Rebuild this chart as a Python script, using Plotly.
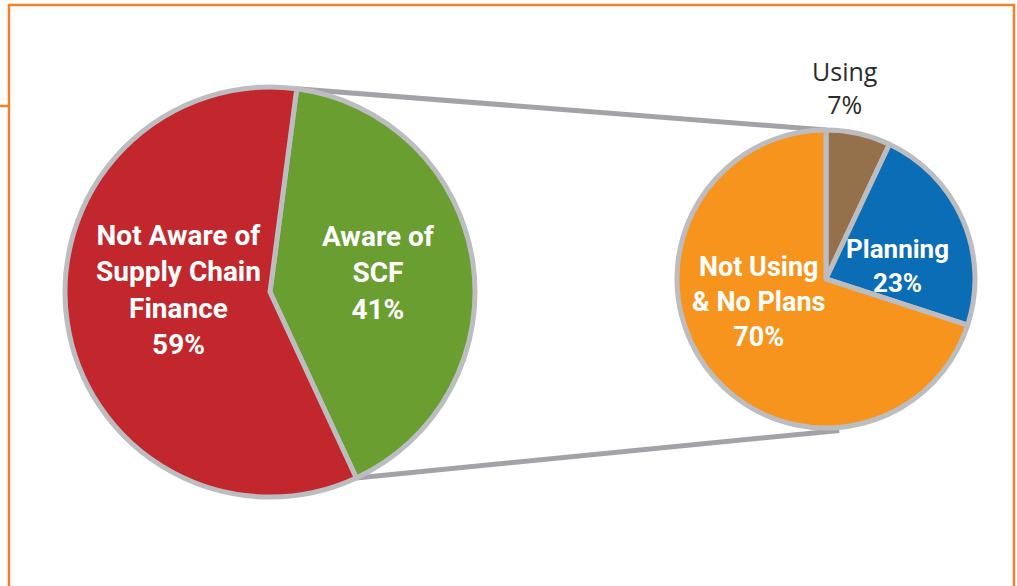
import math
import plotly.graph_objects as go

# --- data ---------------------------------------------------------------
awareness_labels = ["Aware of<br>SCF", "Not Aware of<br>Supply Chain<br>Finance"]
awareness_values = [41, 59]
awareness_colors = ["#6a9e30", "#c1272d"]

usage_labels = ["Using", "Planning", "Not Using<br>& No Plans"]
usage_values = [7, 23, 70]
usage_colors = ["#94714a", "#0b6db6", "#f7941d"]

# --- page geometry (pixels) ---------------------------------------------
W, H = 1017, 586
LEFT_C, LEFT_R, LEFT_ROT = (270, 292), 205, 7.5
RIGHT_C, RIGHT_R, RIGHT_ROT = (826, 279), 149, 0

OUTLINE = "#bcbdc0"
CONNECTOR = "#a3a3a7"
FRAME = "#f58025"


def px(x):
    return x / W


def py(y):
    return 1 - y / H


def domain(center, r):
    cx, cy = center
    return dict(x=[px(cx - r), px(cx + r)], y=[py(cy + r), py(cy - r)])


def rim(center, r, angle_deg):
    """Point on a pie rim, angle measured clockwise from 12 o'clock."""
    a = math.radians(angle_deg)
    return center[0] + r * math.sin(a), center[1] - r * math.cos(a)


fig = go.Figure()

fig.add_trace(go.Pie(
    labels=awareness_labels, values=awareness_values, sort=False,
    direction="clockwise", rotation=LEFT_ROT,
    marker=dict(colors=awareness_colors, line=dict(color=OUTLINE, width=5)),
    textinfo="none", hoverinfo="label+percent", showlegend=False,
    domain=domain(LEFT_C, LEFT_R),
))

fig.add_trace(go.Pie(
    labels=usage_labels, values=usage_values, sort=False,
    direction="clockwise", rotation=RIGHT_ROT,
    marker=dict(colors=usage_colors, line=dict(color=OUTLINE, width=5)),
    textinfo="none", hoverinfo="label+percent", showlegend=False,
    domain=domain(RIGHT_C, RIGHT_R),
))

# connector lines from the "Aware" slice edges to the breakdown pie
aware_span = 360 * awareness_values[0] / sum(awareness_values)
top_start = rim(LEFT_C, LEFT_R, LEFT_ROT)
bot_start = rim(LEFT_C, LEFT_R, LEFT_ROT + aware_span)
top_end = rim(RIGHT_C, RIGHT_R, RIGHT_ROT)
bot_end = rim(RIGHT_C, RIGHT_R + 3, 175)

shapes = []
for (x0, y0), (x1, y1) in [(top_start, top_end), (bot_start, bot_end)]:
    shapes.append(dict(type="line", xref="paper", yref="paper",
                       x0=px(x0), y0=py(y0), x1=px(x1), y1=py(y1),
                       line=dict(color=CONNECTOR, width=5), layer="below"))

# orange page frame (open at the bottom) and its small side tick
shapes.append(dict(type="path", xref="paper", yref="paper",
                   path=f"M {px(9)} {py(600)} L {px(9)} {py(5)} L {px(1014)} {py(5)} L {px(1014)} {py(600)}",
                   line=dict(color=FRAME, width=2.5), layer="below"))
shapes.append(dict(type="line", xref="paper", yref="paper",
                   x0=px(0), y0=py(106), x1=px(9), y1=py(106),
                   line=dict(color=FRAME, width=2.5), layer="below"))

# slice labels
BOLD = "Liberation Sans Narrow, Roboto, sans-serif"


def pct(v, total):
    return f"{round(100 * v / total)}%"


tot_a = sum(awareness_values)
tot_u = sum(usage_values)
label_specs = [
    (178, 290, f"<b>{awareness_labels[1]}<br>{pct(awareness_values[1], tot_a)}</b>", 28, "white", BOLD),
    (378, 273, f"<b>{awareness_labels[0]}<br>{pct(awareness_values[0], tot_a)}</b>", 28, "white", BOLD),
    (758, 302, f"<b>{usage_labels[2]}<br>{pct(usage_values[2], tot_u)}</b>", 27, "white", BOLD),
    (897, 266, f"<b>{usage_labels[1]}<br>{pct(usage_values[1], tot_u)}</b>", 26, "white", BOLD),
    (845, 87, f"{usage_labels[0]}<br>{pct(usage_values[0], tot_u)}", 25, "#2b2b2b", "Open Sans, sans-serif"),
]
annotations = [
    dict(x=px(x), y=py(y), xref="paper", yref="paper", text=t, showarrow=False,
         xanchor="center", yanchor="middle", align="center",
         font=dict(size=s, color=c, family=f))
    for x, y, t, s, c, f in label_specs
]

fig.update_layout(
    width=W, height=H, margin=dict(l=0, r=0, t=0, b=0),
    paper_bgcolor="white", plot_bgcolor="white",
    shapes=shapes, annotations=annotations,
)

fig.write_html("out.html")
